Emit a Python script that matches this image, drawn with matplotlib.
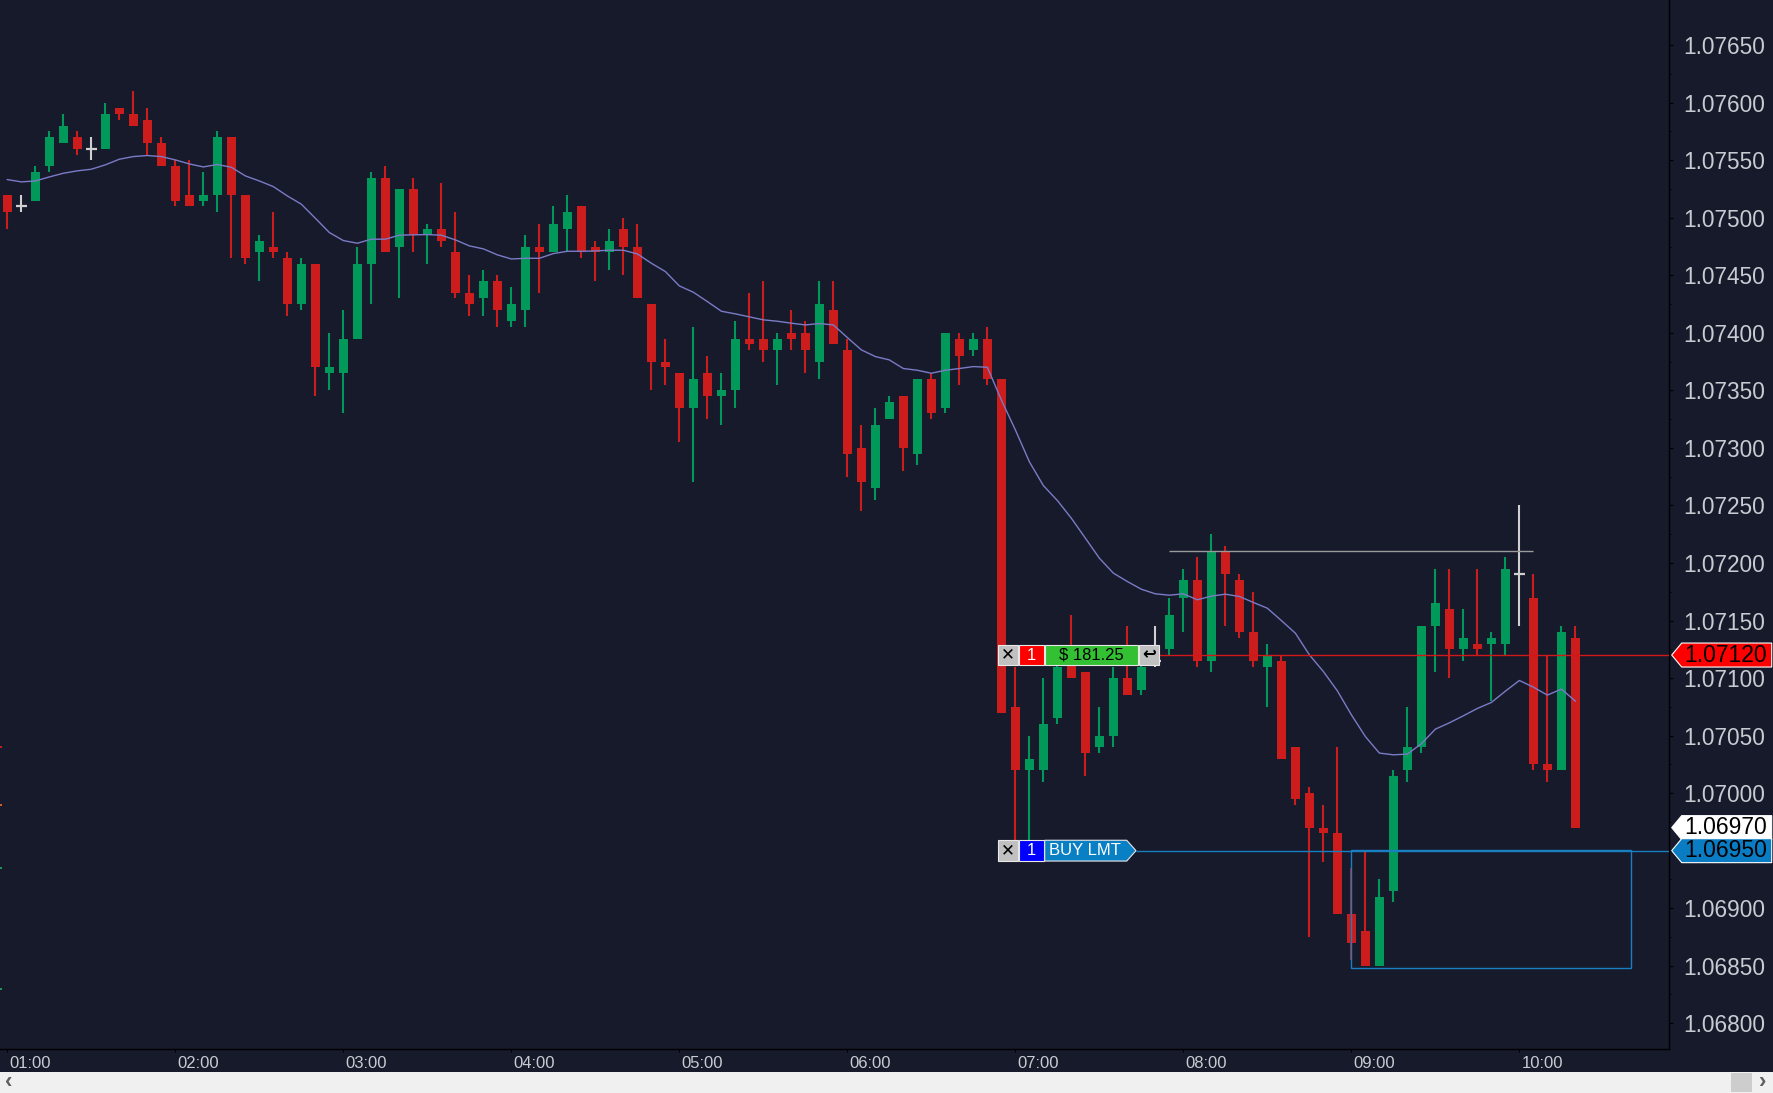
import matplotlib
matplotlib.use("Agg")
import matplotlib.pyplot as plt
from matplotlib.patches import Rectangle, Polygon
from matplotlib.transforms import IdentityTransform, ScaledTranslation
import numpy as np

# 5 minute bars, 01:00 .. 10:20
opens = [1.07520, 1.07510, 1.07515, 1.07545, 1.07565, 1.07570, 1.07560, 1.07560, 1.07595, 1.07590,
         1.07585, 1.07565, 1.07545, 1.07520, 1.07515, 1.07520, 1.07570, 1.07520, 1.07470, 1.07475,
         1.07465, 1.07425, 1.07460, 1.07365, 1.07365, 1.07395, 1.07460, 1.07535, 1.07475, 1.07525,
         1.07485, 1.07490, 1.07470, 1.07435, 1.07430, 1.07445, 1.07410, 1.07420, 1.07475, 1.07470,
         1.07490, 1.07510, 1.07475, 1.07470, 1.07490, 1.07475, 1.07425, 1.07375, 1.07365, 1.07335,
         1.07365, 1.07345, 1.07350, 1.07395, 1.07395, 1.07385, 1.07400, 1.07400, 1.07375, 1.07420,
         1.07385, 1.07300, 1.07265, 1.07325, 1.07345, 1.07295, 1.07360, 1.07335, 1.07395, 1.07385,
         1.07395, 1.07360, 1.07075, 1.07020, 1.07020, 1.07065, 1.07115, 1.07105, 1.07040, 1.07050,
         1.07100, 1.07090, 1.07115, 1.07125, 1.07170, 1.07185, 1.07115, 1.07210, 1.07185, 1.07140,
         1.07110, 1.07115, 1.07040, 1.07000, 1.06970, 1.06965, 1.06895, 1.06880, 1.06850, 1.06915,
         1.07020, 1.07040, 1.07145, 1.07160, 1.07125, 1.07130, 1.07130, 1.07130, 1.07190, 1.07170,
         1.07025, 1.07020, 1.07135]
highs = [1.07520, 1.07520, 1.07545, 1.07575, 1.07590, 1.07575, 1.07570, 1.07600, 1.07595, 1.07610,
         1.07595, 1.07570, 1.07550, 1.07550, 1.07540, 1.07575, 1.07570, 1.07520, 1.07485, 1.07505,
         1.07470, 1.07465, 1.07460, 1.07400, 1.07420, 1.07475, 1.07540, 1.07545, 1.07525, 1.07535,
         1.07495, 1.07530, 1.07505, 1.07450, 1.07455, 1.07450, 1.07440, 1.07485, 1.07495, 1.07510,
         1.07520, 1.07510, 1.07480, 1.07490, 1.07500, 1.07495, 1.07425, 1.07395, 1.07365, 1.07405,
         1.07380, 1.07365, 1.07410, 1.07435, 1.07445, 1.07400, 1.07420, 1.07410, 1.07445, 1.07445,
         1.07395, 1.07320, 1.07335, 1.07345, 1.07345, 1.07360, 1.07365, 1.07400, 1.07400, 1.07400,
         1.07405, 1.07360, 1.07110, 1.07050, 1.07100, 1.07115, 1.07155, 1.07105, 1.07075, 1.07110,
         1.07145, 1.07115, 1.07145, 1.07170, 1.07195, 1.07205, 1.07225, 1.07215, 1.07190, 1.07175,
         1.07130, 1.07120, 1.07040, 1.07005, 1.06990, 1.07040, 1.06935, 1.06950, 1.06925, 1.07020,
         1.07075, 1.07145, 1.07195, 1.07195, 1.07160, 1.07195, 1.07140, 1.07205, 1.07250, 1.07190,
         1.07120, 1.07145, 1.07145]
lows = [1.07490, 1.07505, 1.07515, 1.07540, 1.07565, 1.07555, 1.07550, 1.07560, 1.07585, 1.07580,
        1.07555, 1.07545, 1.07510, 1.07510, 1.07510, 1.07505, 1.07465, 1.07460, 1.07445, 1.07465,
        1.07415, 1.07420, 1.07345, 1.07350, 1.07330, 1.07395, 1.07425, 1.07470, 1.07430, 1.07470,
        1.07460, 1.07475, 1.07430, 1.07415, 1.07415, 1.07405, 1.07405, 1.07405, 1.07435, 1.07470,
        1.07470, 1.07465, 1.07445, 1.07455, 1.07450, 1.07430, 1.07350, 1.07355, 1.07305, 1.07270,
        1.07325, 1.07320, 1.07335, 1.07385, 1.07375, 1.07355, 1.07385, 1.07365, 1.07360, 1.07390,
        1.07275, 1.07245, 1.07255, 1.07325, 1.07280, 1.07285, 1.07325, 1.07330, 1.07355, 1.07380,
        1.07355, 1.07070, 1.06940, 1.06955, 1.07010, 1.07060, 1.07100, 1.07015, 1.07035, 1.07040,
        1.07085, 1.07085, 1.07110, 1.07120, 1.07140, 1.07110, 1.07105, 1.07145, 1.07135, 1.07110,
        1.07075, 1.07030, 1.06990, 1.06875, 1.06940, 1.06895, 1.06855, 1.06850, 1.06850, 1.06905,
        1.07010, 1.07035, 1.07105, 1.07100, 1.07115, 1.07120, 1.07080, 1.07120, 1.07145, 1.07020,
        1.07010, 1.07020, 1.06970]
closes = [1.07505, 1.07510, 1.07540, 1.07570, 1.07580, 1.07560, 1.07560, 1.07590, 1.07590, 1.07580,
          1.07565, 1.07545, 1.07515, 1.07510, 1.07520, 1.07570, 1.07520, 1.07465, 1.07480, 1.07470,
          1.07425, 1.07460, 1.07370, 1.07370, 1.07395, 1.07460, 1.07535, 1.07470, 1.07525, 1.07485,
          1.07490, 1.07480, 1.07435, 1.07425, 1.07445, 1.07420, 1.07425, 1.07475, 1.07470, 1.07495,
          1.07505, 1.07470, 1.07470, 1.07480, 1.07475, 1.07430, 1.07375, 1.07370, 1.07335, 1.07360,
          1.07345, 1.07350, 1.07395, 1.07390, 1.07385, 1.07395, 1.07395, 1.07385, 1.07425, 1.07390,
          1.07295, 1.07270, 1.07320, 1.07340, 1.07300, 1.07360, 1.07330, 1.07400, 1.07380, 1.07395,
          1.07360, 1.07070, 1.07020, 1.07030, 1.07060, 1.07110, 1.07100, 1.07035, 1.07050, 1.07100,
          1.07085, 1.07110, 1.07115, 1.07155, 1.07185, 1.07115, 1.07210, 1.07190, 1.07140, 1.07115,
          1.07120, 1.07030, 1.06995, 1.06970, 1.06965, 1.06895, 1.06870, 1.06850, 1.06910, 1.07015,
          1.07040, 1.07145, 1.07165, 1.07125, 1.07135, 1.07125, 1.07135, 1.07195, 1.07190, 1.07025,
          1.07020, 1.07140, 1.06970]
# moving average line as drawn on the chart
ma_values = [1.075332, 1.075312, 1.075320, 1.075355, 1.075387, 1.075408, 1.075422, 1.075460, 1.075509, 1.075532,
             1.075541, 1.075532, 1.075503, 1.075468, 1.075442, 1.075463, 1.075439, 1.075364, 1.075320, 1.075271,
             1.075190, 1.075118, 1.074996, 1.074872, 1.074802, 1.074779, 1.074814, 1.074814, 1.074849, 1.074852,
             1.074854, 1.074849, 1.074808, 1.074756, 1.074730, 1.074678, 1.074642, 1.074648, 1.074648, 1.074689,
             1.074709, 1.074709, 1.074712, 1.074718, 1.074718, 1.074686, 1.074605, 1.074533, 1.074408, 1.074353,
             1.074272, 1.074188, 1.074165, 1.074139, 1.074113, 1.074101, 1.074084, 1.074069, 1.074081, 1.074069,
             1.073959, 1.073852, 1.073794, 1.073765, 1.073690, 1.073675, 1.073649, 1.073675, 1.073690, 1.073707,
             1.073701, 1.073417, 1.073157, 1.072880, 1.072673, 1.072543, 1.072389, 1.072216, 1.072042, 1.071912,
             1.071839, 1.071772, 1.071732, 1.071720, 1.071732, 1.071680, 1.071712, 1.071729, 1.071709, 1.071657,
             1.071607, 1.071500, 1.071390, 1.071202, 1.071057, 1.070889, 1.070681, 1.070492, 1.070348, 1.070333,
             1.070339, 1.070429, 1.070556, 1.070611, 1.070672, 1.070736, 1.070788, 1.070886, 1.070979, 1.070921,
             1.070852, 1.070904, 1.070800]

hour_bars = [0, 12, 24, 36, 48, 60, 72, 84, 96, 108]
hour_labels = ["01:00", "02:00", "03:00", "04:00", "05:00", "06:00", "07:00", "08:00", "09:00", "10:00"]
price_ticks = [1.06800, 1.06850, 1.06900, 1.06950, 1.07000, 1.07050, 1.07100, 1.07150, 1.07200,
               1.07250, 1.07300, 1.07350, 1.07400, 1.07450, 1.07500, 1.07550, 1.07600, 1.07650]
minor_ticks = [1.06825, 1.06875, 1.06925, 1.06975, 1.07025, 1.07075, 1.07125, 1.07175, 1.07225,
               1.07275, 1.07325, 1.07375, 1.07425, 1.07475, 1.07525, 1.07575, 1.07625]

position_price = 1.07120
position_qty = "1"
position_pnl = "$ 181.25"
order_price = 1.06950
order_qty = "1"
order_text = "BUY LMT"
last_price = 1.06970
level_price = 1.07210
level_bars = (83, 109)
zone_prices = (1.06848, 1.06951)
zone_bars = (96, 116)
edge_prices = [1.07040, 1.06990, 1.06935, 1.06830]

BG = "#161a2b"
UP = "#00995a"
DOWN = "#cc1c1c"
FLAT = "#d0d0d0"
W, H = 1773, 1093

plt.rcParams["font.family"] = ["Liberation Sans", "DejaVu Sans"]

fig = plt.figure(figsize=(W / 100, H / 100), dpi=100, facecolor=BG)
ax = fig.add_axes([0, 44 / H, 1669.3 / W, 1049 / H], facecolor=BG)
ax.set_xlim(-0.524, 118.71)
ax.set_ylim(1.0677763, 1.0768927)

o = np.array(opens)
h = np.array(highs)
l = np.array(lows)
c = np.array(closes)
x = np.arange(len(o))
up = c > o
dn = c < o
flat = c == o
cols = np.where(up, UP, np.where(dn, DOWN, FLAT))

ax.vlines(x, l, h, colors=cols, lw=1.5, zorder=2)
ax.bar(x[up], (c - o)[up], bottom=o[up], width=0.64, color=UP, lw=0, zorder=3)
ax.bar(x[dn], (o - c)[dn], bottom=c[dn], width=0.64, color=DOWN, lw=0, zorder=3)
ax.hlines(o[flat], x[flat] - 0.4, x[flat] + 0.4, colors=FLAT, lw=1.6, zorder=3)

ax.plot(x, ma_values, color="#7b7bc6", lw=1.0, zorder=4)

ax.hlines(level_price, level_bars[0], level_bars[1], colors="#9a9a9a", lw=1.0, zorder=4)
ax.add_patch(Rectangle((zone_bars[0], zone_prices[0]), zone_bars[1] - zone_bars[0],
                       zone_prices[1] - zone_prices[0], fill=False, edgecolor="#1a7fc0", lw=1.0, zorder=4))
x0 = ax.get_xlim()[0]
ax.hlines(edge_prices, x0, x0 + 0.15, colors=["#e02020", "#f07020", "#20b060", "#20b060"], lw=1.2)

# axes styling
for side in ("top", "left"):
    ax.spines[side].set_visible(False)
for side in ("right", "bottom"):
    ax.spines[side].set_color("black")
    ax.spines[side].set_linewidth(1.0)
ax.yaxis.tick_right()
ax.set_yticks(price_ticks)
ax.set_yticks(minor_ticks, minor=True)
ax.set_yticklabels([f"{p:.5f}" for p in price_ticks])
ax.tick_params(axis="y", which="major", length=2.6, pad=7.4, labelsize=16.3, labelcolor="#c8ccd2", color="black")
ax.tick_params(axis="y", which="minor", length=1.6, color="black")
ax.set_xticks(hour_bars)
ax.set_xticklabels(hour_labels, ha="left")
ax.tick_params(axis="x", length=2.2, pad=2.6, labelsize=12, labelcolor="#c8ccd2", color="black")
shift = ScaledTranslation(2 / 100, 0, fig.dpi_scale_trans)
for lab in ax.get_xticklabels():
    lab.set_transform(lab.get_transform() + shift)

ident = IdentityTransform()


def py(price):
    return ax.transData.transform((0, price))[1]


def px_to_bar(px):
    return ax.transData.inverted().transform((px, 0))[0]


def box(x0, x1, yc, color, hh=10.4):
    fig.add_artist(Rectangle((x0, yc - hh), x1 - x0, 2 * hh, transform=ident,
                             facecolor=color, edgecolor="#e8e8e8", lw=0.8, zorder=5))


def label(xc, yc, s, color, size=12, weight="normal", ha="center"):
    fig.text(xc, yc, s, transform=ident, ha=ha, va="center", color=color,
             fontsize=size, fontweight=weight, zorder=6)


# position line and its widget
ax.hlines(position_price, px_to_bar(1158.7), ax.get_xlim()[1], colors="#d01818", lw=1.0, zorder=4)
yp = py(position_price)
box(998.3, 1018.3, yp, "#c0c0c0")
label(1008.3, yp, "✕", "black", 12, "bold")
box(1018.7, 1044.0, yp, "#ff0000")
label(1031.3, yp, position_qty, "white", 12)
box(1044.7, 1138.0, yp, "#33c033")
label(1091.3, yp, position_pnl, "black", 12)
box(1138.7, 1158.7, yp, "#c0c0c0")
label(1148.7, yp, "↩", "black", 12, "bold")

# working order line and its widget
ax.hlines(order_price, px_to_bar(1136), ax.get_xlim()[1], colors="#1a7fc0", lw=1.0, zorder=4)
yo = py(order_price)
box(998.3, 1018.3, yo, "#c0c0c0")
label(1008.3, yo, "✕", "black", 12, "bold")
box(1018.7, 1044.0, yo, "#0000ff")
label(1031.3, yo, order_qty, "white", 12)
hh = 10.4
fig.add_artist(Polygon([(1044.7, yo - hh), (1126.7, yo - hh), (1136, yo), (1126.7, yo + hh), (1044.7, yo + hh)],
                       closed=True, transform=ident, facecolor="#0a80c4", edgecolor="#e8e8e8", lw=0.8, zorder=5))
label(1085, yo, order_text, "white", 12)


# price tags on the right axis
def tag(price, color):
    yc = py(price)
    fig.add_artist(Polygon([(1671.7, yc), (1681.7, yc + 12), (1771.7, yc + 12), (1771.7, yc - 12), (1681.7, yc - 12)],
                           closed=True, transform=ident, facecolor=color, edgecolor="white", lw=0.8, zorder=5))
    label(1767, yc, f"{price:.5f}", "black", 16.5, ha="right")


tag(position_price, "#ff0000")
tag(last_price, "#ffffff")
tag(order_price, "#0a7cc4")

# scroll bar at the bottom
fig.add_artist(Rectangle((0, 0), W, 21, transform=ident, facecolor="#f0f0f0", lw=0, zorder=5))
fig.add_artist(Rectangle((1731, 1.5), 20.7, 18.5, transform=ident, facecolor="#cdcdcd", lw=0, zorder=6))
label(9, 10.5, "‹", "#606060", 16, "bold")
label(1763, 10.5, "›", "#606060", 16, "bold")

fig.savefig("out.png", dpi=100, facecolor=BG)
